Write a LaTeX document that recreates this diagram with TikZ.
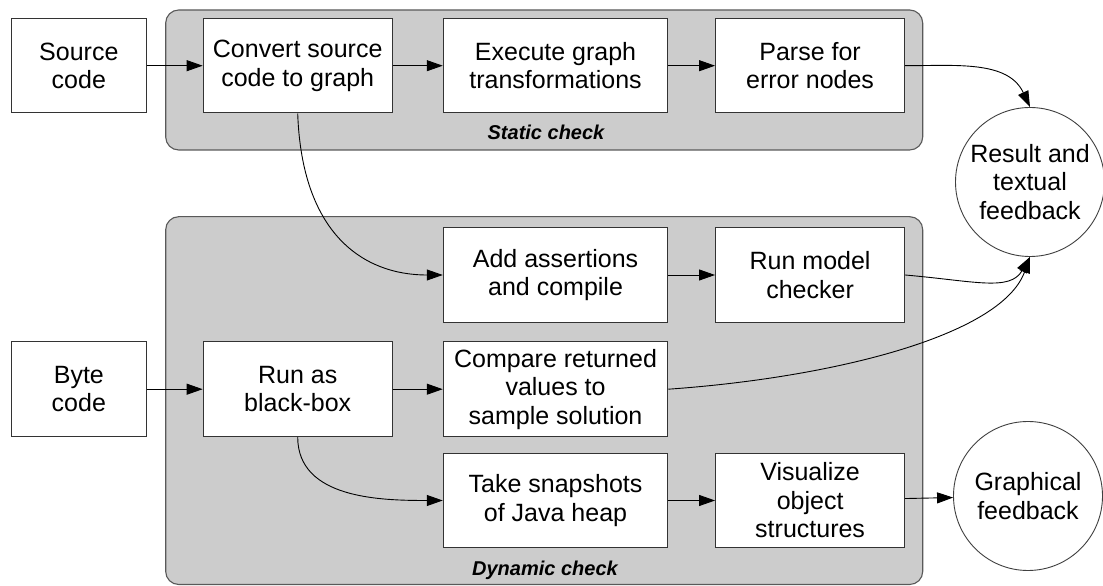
\documentclass[tikz,border=0pt]{standalone}
\usepackage{fontspec}
\setmainfont{Liberation Sans}
\usepackage{tikz}
\usetikzlibrary{shapes.geometric, arrows.meta, positioning}

\definecolor{groupgray}{RGB}{204,204,204}

\begin{document}
\begin{tikzpicture}[
    x=1pt, y=1pt,
    box/.style={rectangle, draw=black!80, fill=white, line width=1.1pt, minimum width=189pt, minimum height=94.5pt, inner sep=2pt, align=center, font=\fontsize{25}{28.5}\selectfont},
    widebox/.style={box, minimum width=224.5pt},
    smallbox/.style={box, minimum width=134.5pt},
    outcircle/.style={circle, draw=black!75, fill=white, line width=0.9pt, minimum size=149pt, inner sep=0pt, align=center, font=\fontsize{25}{28.5}\selectfont},
    checkgroup/.style={rounded corners=13pt, draw=black!65, fill=groupgray, line width=1.1pt},
    grouplabel/.style={anchor=base, font=\fontsize{20}{24}\selectfont\bfseries\itshape},
    arrow/.style={-{Triangle[length=16pt, width=11pt]}, line width=0.9pt}
]
\useasboundingbox (0,0) rectangle (1103,586);

% Groups
\draw[checkgroup] (165.7,436) rectangle (922.7,576);
\draw[checkgroup] (165.7,1.5) rectangle (922.7,369.3);
\node[grouplabel] (staticlbl) at (546,446) {Static check};
\node[grouplabel] (dynamiclbl) at (545,10) {Dynamic check};

% Top: static check
\node[smallbox] (source) at (78.85,520.3) {Source\\code};
\node[box, right=56pt of source] (convert) {Convert source\\code to graph};
\node[widebox, right=50pt of convert] (transform) {Execute graph\\transformations};
\node[box, right=46.7pt of transform] (parse) {Parse for\\error nodes};

% Bottom: dynamic check
\node[widebox, below=113.7pt of transform] (assert) {Add assertions\\and compile};
\node[box, right=46.7pt of assert] (checker) {Run model\\checker};
\node[widebox, below=18.6pt of assert] (compare) {Compare returned\\values to\\sample solution};
\node[box, left=50pt of compare] (blackbox) {Run as\\black-box};
\node[smallbox, left=56pt of blackbox] (bytecode) {Byte\\code};
\node[widebox, below=15.7pt of compare] (snapshot) {Take snapshots\\of Java heap};
\node[box, right=46.7pt of snapshot] (visualize) {Visualize\\object\\structures};

% Outputs
\node[outcircle] (textual) at (1030,404) {Result and\\textual\\feedback};
\node[outcircle] (graphical) at (1028,90) {Graphical\\feedback};

% Arrows
\draw[arrow] (source) -- (convert);
\draw[arrow] (convert) -- (transform);
\draw[arrow] (transform) -- (parse);
\draw[arrow] (parse.east) to[out=0, in=115] (textual.north);
\draw[arrow] (convert.south) to[out=-88, in=180, out distance=120pt, in distance=80pt] (assert.west);
\draw[arrow] (assert) -- (checker);
\draw[arrow] (checker.east) to[out=-5, in=240, out distance=70pt, in distance=40pt] (textual.south);
\draw[arrow] (bytecode) -- (blackbox);
\draw[arrow] (blackbox) -- (compare);
\draw[arrow] (compare.east) to[out=4, in=250, out distance=160pt, in distance=85pt] (textual.south);
\draw[arrow] (blackbox.south) to[out=-90, in=180] (snapshot.west);
\draw[arrow] (snapshot) -- (visualize);
\draw[arrow] (visualize) -- (graphical);

\end{tikzpicture}
\end{document}
